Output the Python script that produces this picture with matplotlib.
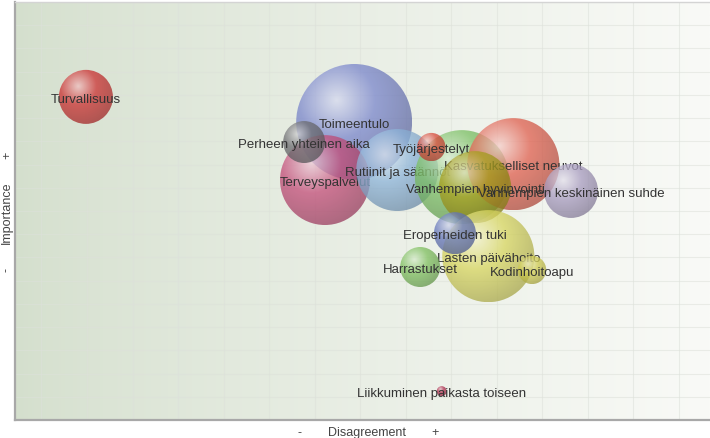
import numpy as np
import matplotlib
matplotlib.use("Agg")
import matplotlib.pyplot as plt
from matplotlib.patches import Ellipse
from matplotlib.colors import to_rgb

plt.rcParams['font.family'] = ['Liberation Sans', 'DejaVu Sans']

# bubble data, in drawing order
labels = ['Turvallisuus', 'Toimeentulo', 'Terveyspalvelut', 'Rutiinit ja säännöt',
          'Perheen yhteinen aika', '', 'Kasvatukselliset neuvot', 'Työjärjestelyt',
          'Vanhempien hyvinvointi', 'Vanhempien keskinäinen suhde', 'Lasten päivähoito',
          'Eroperheiden tuki', 'Harrastukset', 'Kodinhoitoapu', 'Liikkuminen paikasta toiseen']
disagreement = [10.2, 48.8, 44.6, 55.0, 41.6, 64.3, 71.7, 59.9, 66.2, 80.0, 68.1, 63.3, 58.3, 74.4, 61.4]
importance = [77.3, 71.3, 57.4, 59.8, 66.5, 58.1, 61.2, 65.3, 55.7, 54.8, 39.2, 44.7, 36.6, 35.9, 6.9]
responses = [73, 336, 202, 168, 44, 221, 212, 20, 130, 73, 212, 44, 40, 20, 2.5]
colors = ['#cc3333', '#7b87cc', '#c44f7a', '#8db4d9', '#6e6e72', '#7cc065', '#e0604f', '#d84a3a',
          '#a8a020', '#a89cc0', '#d8d660', '#6677bb', '#80c060', '#d0cc50', '#b03050']

W, H = 710, 439
fig = plt.figure(figsize=(W / 100, H / 100), dpi=100)
ax_l, ax_b, ax_w, ax_h = 15, 18, 695, 418
ax = fig.add_axes([ax_l / W, ax_b / H, ax_w / W, ax_h / H])
ax.set_xlim(0, 100)
ax.set_ylim(0, 100)

# background gradient
gx = np.linspace(0, 1, 256)
left = np.array([212, 223, 205]) / 255
right = np.array([249, 250, 247]) / 255
bg = left[None, None, :] * (1 - gx[None, :, None] ** 0.8) + right[None, None, :] * gx[None, :, None] ** 0.8
bg = np.repeat(bg, 4, axis=0)
ax.imshow(bg, extent=[0, 100, 0, 100], aspect='auto', zorder=0, interpolation='bilinear')

# faint grid
xt = np.arange(3.81, 100, 6.55)
yt = np.arange(0, 100.1, 100 / 18)
for v in xt:
    ax.axvline(v, color='#dde1da', lw=0.8, alpha=0.55, zorder=0.5)
for v in yt:
    ax.axhline(v, color='#dde1da', lw=0.8, alpha=0.55, zorder=0.5)


def sphere(base, n=120):
    base = np.array(to_rgb(base))
    light = base + (1 - base) * 0.7
    dark = base * 0.78
    u = np.linspace(-1, 1, n)
    xx, yy = np.meshgrid(u, u[::-1])
    hx, hy = -0.3, 0.38
    d = np.sqrt((xx - hx) ** 2 + (yy - hy) ** 2) / (1 + np.hypot(hx, hy))
    d = np.clip(d, 0, 1)
    img = np.zeros((n, n, 4))
    t1 = np.clip(d / 0.45, 0, 1)[..., None]
    t2 = np.clip((d - 0.45) / 0.55, 0, 1)[..., None]
    c = np.where(d[..., None] < 0.45, light * (1 - t1) + base * t1, base * (1 - t2) + dark * t2)
    img[..., :3] = c
    img[..., 3] = 0.76
    return img


z = 2
for name, x, y, val, col in zip(labels, disagreement, importance, responses, colors):
    r = np.sqrt(val * 10)  # radius in pixels
    rx = r / ax_w * 100
    ry = r / ax_h * 100
    clip = Ellipse((x, y), 2 * rx, 2 * ry, transform=ax.transData, facecolor='none', edgecolor='none')
    ax.add_patch(clip)
    im = ax.imshow(sphere(col), extent=[x - rx, x + rx, y - ry, y + ry], aspect='auto',
                   interpolation='bilinear', zorder=z)
    im.set_clip_path(clip)
    if name:
        ax.text(x, y - 0.4, name, ha='center', va='center', fontsize=9.5, color='#333333', zorder=z + 0.5)
    z += 1

ax.set_xlim(0, 100)
ax.set_ylim(0, 100)
ax.set_xticks([])
ax.set_yticks([])
ax.spines['right'].set_visible(False)
ax.spines['top'].set_color('#d4d4d4')
ax.spines['top'].set_linewidth(1)
for s in ['left', 'bottom']:
    ax.spines[s].set_color('#a8a8a8')
    ax.spines[s].set_linewidth(1.6)

# axis captions
lab = dict(ha='center', va='center', fontsize=9, color='#444444')
fig.text(300 / W, 1 - 433 / H, '-', **lab)
fig.text(367 / W, 1 - 433 / H, 'Disagreement', **lab)
fig.text(435 / W, 1 - 433 / H, '+', **lab)
fig.text(7 / W, 1 - 270 / H, '-', rotation=90, **lab)
fig.text(7 / W, 1 - 213 / H, 'Importance', rotation=90, **lab)
fig.text(7 / W, 1 - 155 / H, '+', rotation=90, **lab)

fig.savefig('out.png', dpi=100)
